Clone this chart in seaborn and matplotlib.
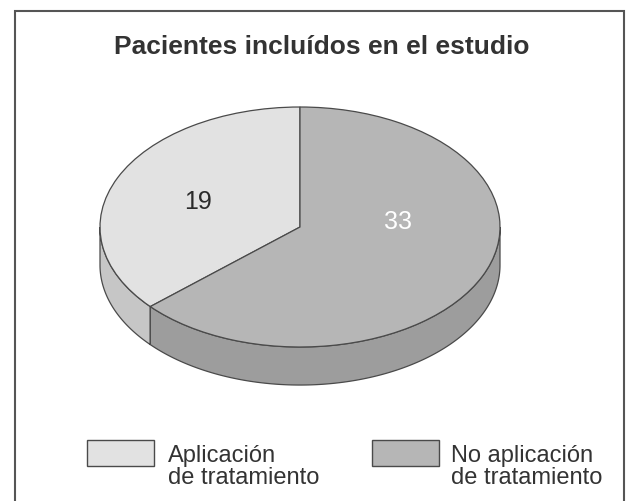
import numpy as np
import matplotlib
matplotlib.use("Agg")
import matplotlib.pyplot as plt
from matplotlib.patches import Rectangle
import seaborn as sns

# ---- data ----
categories = ["Aplicación\nde tratamiento", "No aplicación\nde tratamiento"]
values = [19, 33]
title = "Pacientes incluídos en el estudio"

# ---- style ----
top_colors = ["#e2e2e2", "#b6b6b6"]
side_colors = ["#c6c6c6", "#9d9d9d"]
label_colors = ["#2b2b2b", "#ffffff"]
edge = "#4a4a4a"

sns.set_theme(style="white")
plt.rcParams["font.family"] = ["Liberation Sans", "DejaVu Sans"]

W, H = 631, 502
fig = plt.figure(figsize=(W / 100, H / 100), dpi=100)
fig.patch.set_facecolor("white")

# pie axes: 200 px per x unit, 120 px per y unit, centre at (300, 228) from top
ax = fig.add_axes([50 / W, 82 / H, 500 / W, 342 / H])
wedges, _ = ax.pie(values, colors=top_colors, startangle=90, counterclock=True,
                   radius=1, wedgeprops=dict(edgecolor=edge, linewidth=0.9, zorder=3))
ax.set_aspect("auto")
ax.set_xlim(-1.25, 1.25)
ax.set_ylim(-1.6, 1.25)
ax.axis("off")

depth = 0.317
for w, c in zip(wedges, side_colors):
    t1, t2 = w.theta1, w.theta2
    for lo, hi in [(180, 360), (540, 720)]:
        a, b = max(t1, lo), min(t2, hi)
        if b <= a:
            continue
        ts = np.radians(np.linspace(a, b, 200))
        xs = np.cos(ts)
        ys = np.sin(ts)
        px = np.concatenate([xs, xs[::-1]])
        py = np.concatenate([ys, ys[::-1] - depth])
        ax.fill(px, py, facecolor=c, edgecolor=edge, linewidth=0.9, zorder=2)

# value labels
label_pos = [(-0.51, 0.22), (0.49, 0.05)]
for v, (lx, ly), col in zip(values, label_pos, label_colors):
    ax.text(lx, ly, str(v), ha="center", va="center", fontsize=18, color=col, zorder=5)

# title
fig.text(322 / W, 1 - 47 / H, title, ha="center", va="center",
         fontsize=19, fontweight="bold", color="#333333")

# legend (boxes + two-line labels)
box_x = [87, 372]
text_x = [168, 451]
for w, bx, tx, lab in zip(wedges, box_x, text_x, categories):
    fig.add_artist(Rectangle((bx / W, 1 - 467 / H), 67 / W, 26 / H,
                             transform=fig.transFigure,
                             facecolor=w.get_facecolor(), edgecolor=edge,
                             linewidth=1.0))
    fig.text(tx / W, 1 - 484 / H, lab, ha="left", va="baseline",
             fontsize=17, color="#333333", linespacing=1.0)

# outer frame
fig.add_artist(Rectangle((15 / W, -0.05), (624 - 15) / W, (H - 12) / H + 0.05,
                         transform=fig.transFigure, fill=False,
                         edgecolor="#555555", linewidth=1.5))

fig.savefig("out.png", dpi=100, facecolor="white")
